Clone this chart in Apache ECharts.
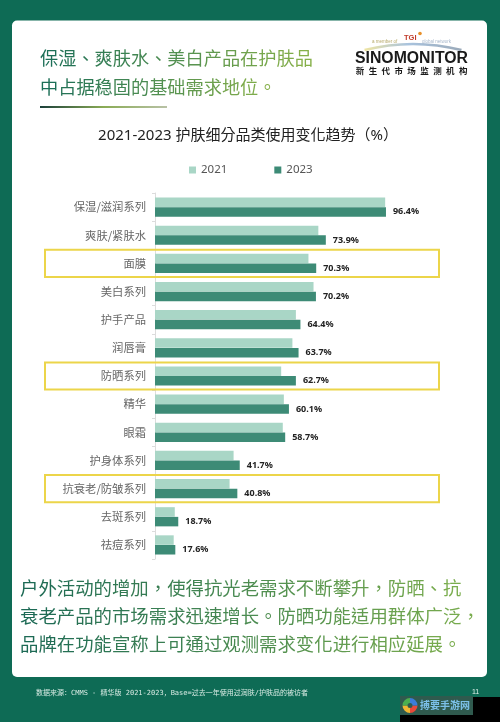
<!DOCTYPE html>
<html><head><meta charset="utf-8">
<script src="https://cdn.jsdelivr.net/npm/echarts@6/dist/echarts.min.js"></script>
<style>html,body{margin:0;padding:0;background:#0e6b55;}#c{width:500px;height:722px;}</style>
</head><body><div id="c"></div>
<script>
const categories = ['保湿/滋润系列','爽肤/紧肤水','面膜','美白系列','护手产品','润唇膏','防晒系列','精华','眼霜','护身体系列','抗衰老/防皱系列','去斑系列','祛痘系列'];
const values2021 = [96.1,71.1,67.4,69.3,62.7,61.4,57.2,58.2,57.8,39.4,37.9,17.4,17.0];
const values2023 = [96.4,73.9,70.3,70.2,64.4,63.7,62.7,60.1,58.7,41.7,40.8,18.7,17.6];
const seriesNames = ['2021','2023'];
const highlighted = ['面膜','防晒系列','抗衰老/防皱系列'];
const headline = ['保湿、爽肤水、美白产品在护肤品','中占据稳固的基础需求地位。'];
const chartTitle = '2021-2023 护肤细分品类使用变化趋势（%）';
const bodyText = ['户外活动的增加，使得抗光老需求不断攀升，防晒、抗','衰老产品的市场需求迅速增长。防晒功能适用群体广泛，','品牌在功能宣称上可通过观测需求变化进行相应延展。'];
const sourceNote = '数据来源：CMMS - 精华版 2021-2023，Base=过去一年使用过润肤/护肤品的被访者';
const logoName = 'SINOMONITOR';
const logoSub = '新生代市场监测机构';

const C2021 = '#a9d6c6', C2023 = '#3d8b76';
const CJK = '"Noto Sans CJK TC","Noto Sans CJK SC",sans-serif';

function hex(c){return [1,3,5].map(i=>parseInt(c.substr(i,2),16));}
function lerp(a,b,t){const A=hex(a),B=hex(b);return 'rgb('+A.map((v,i)=>Math.round(v+(B[i]-v)*t)).join(',')+')';}
function gradText(str,c0,c1,size){
  const chars=Array.from(str);const rich={};let text='';
  chars.forEach((ch,i)=>{const t=chars.length>1?i/(chars.length-1):0;const k='g'+i;
    rich[k]={fill:lerp(c0,c1,t),fontSize:size,fontFamily:CJK};text+='{'+k+'|'+ch+'}';});
  return {text,rich};
}

const chart = echarts.init(document.getElementById('c'),null,{renderer:'canvas'});
const base = {
  animation:false,
  backgroundColor:'#0e6b55',
  legend:{data:seriesNames,left:189,top:164,padding:0,itemWidth:7,itemHeight:7,itemGap:47,icon:'rect',
    textStyle:{color:'#555',fontSize:11.5,fontFamily:'"Noto Sans",sans-serif'}},
  grid:{left:155,top:193,width:240.6,height:366,containLabel:false},
  xAxis:{type:'value',min:10,max:100,show:false},
  yAxis:{type:'category',inverse:true,data:categories,
    axisLine:{lineStyle:{color:'#dcdcdc'}},
    axisTick:{show:true,length:3,lineStyle:{color:'#dcdcdc'}},
    axisLabel:{color:'#666',fontSize:11.3,margin:9,fontFamily:'"Noto Sans CJK SC",sans-serif'}},
  series:[
    {name:seriesNames[0],type:'bar',data:values2021,barWidth:9.5,barGap:'2%',itemStyle:{color:C2021},z:3},
    {name:seriesNames[1],type:'bar',data:values2023,barWidth:9.5,barGap:'2%',itemStyle:{color:C2023},z:3,
      label:{show:true,position:'right',distance:7,formatter:p=>p.value.toFixed(1)+'%',
        color:'#222',fontSize:9,fontWeight:'bold',fontFamily:'"Noto Sans",sans-serif'}}
  ]
};
chart.setOption(base);

const g = [];
g.push({type:'rect',z:-10,shape:{x:12,y:20.5,width:475,height:656.5,r:5},style:{fill:'#ffffff'}});
headline.forEach((l,i)=>{const r=gradText(l,'#1d6f57','#86b04a',18.2);
  g.push({type:'text',z:5,style:{x:40,y:58+i*29,text:r.text,rich:r.rich,verticalAlign:'middle',textAlign:'left'}});});
g.push({type:'rect',z:5,shape:{x:40,y:106,width:127,height:2},
  style:{fill:new echarts.graphic.LinearGradient(0,0,1,0,[{offset:0,color:'#1b3f3a'},{offset:0.5,color:'#8aab55'},{offset:1,color:'#b9c2a6'}])}});
g.push({type:'arc',z:5,shape:{cx:413,cy:243,r:199,startAngle:-Math.PI/2-0.246,endAngle:-Math.PI/2+0.246},
  style:{lineWidth:2.5,fill:null,stroke:new echarts.graphic.LinearGradient(0,0,1,0,[{offset:0,color:'#f3e7a0'},{offset:0.45,color:'#a9c3de'},{offset:1,color:'#9aa9b8'}])}});
g.push({type:'text',z:5,style:{x:372,y:42,text:'a member of',fill:'#b7a96a',fontSize:4.5,verticalAlign:'middle'}});
g.push({type:'text',z:5,style:{x:404,y:38,text:'TGI',fill:'#c23a2a',fontSize:7.5,fontWeight:'bold',verticalAlign:'middle'}});
g.push({type:'circle',z:5,shape:{cx:420,cy:33.5,r:1.8},style:{fill:'#e8902a'}});
g.push({type:'text',z:5,style:{x:422,y:42,text:'global network',fill:'#a8b8cc',fontSize:4.5,verticalAlign:'middle'}});
g.push({type:'text',z:5,style:{x:411.5,y:58.5,text:logoName,fill:'#1a1a1a',fontSize:15.8,fontWeight:900,
  fontFamily:'"Liberation Sans",Arial,sans-serif',textAlign:'center',verticalAlign:'middle'}});
Array.from(logoSub).forEach((ch,i)=>{g.push({type:'text',z:5,style:{x:360+i*12.9,y:70.5,text:ch,fill:'#1a1a1a',
  fontSize:8.5,fontWeight:'bold',fontFamily:'"Noto Sans CJK SC",sans-serif',textAlign:'center',verticalAlign:'middle'}});});
g.push({type:'text',z:5,style:{x:248,y:136,text:chartTitle,fill:'#222',fontSize:15,
  fontFamily:'"Noto Sans","Noto Sans CJK TC",sans-serif',textAlign:'center',verticalAlign:'middle'}});
const idx0 = chart.convertToPixel({yAxisIndex:0},categories[0]);
const idx1 = chart.convertToPixel({yAxisIndex:0},categories[1]);
const band = Math.abs(idx1-idx0);
highlighted.forEach(name=>{const cy=chart.convertToPixel({yAxisIndex:0},name);
  g.push({type:'rect',z:6,shape:{x:45,y:cy-band/2+0.5,width:394,height:band-1},
    style:{fill:null,stroke:'#ecd54a',lineWidth:2}});});
bodyText.forEach((l,i)=>{const r=gradText(l,'#1d6a55','#7aad4e',18.4);
  g.push({type:'text',z:5,style:{x:20,y:588.5+i*28,text:r.text,rich:r.rich,verticalAlign:'middle',textAlign:'left'}});});
g.push({type:'text',z:5,style:{x:36,y:693.5,text:sourceNote,fill:'#d8ebe4',fontSize:7,
  fontFamily:'"DejaVu Sans Mono","Noto Sans CJK SC",monospace',verticalAlign:'middle'}});
g.push({type:'text',z:5,style:{x:472,y:692,text:'11',fill:'#e0f0ea',fontSize:7,verticalAlign:'middle'}});
g.push({type:'rect',z:8,shape:{x:473,y:697,width:27,height:25},style:{fill:'#000'}});
g.push({type:'rect',z:8,shape:{x:400,y:715,width:100,height:7},style:{fill:'#000'}});
g.push({type:'rect',z:8,shape:{x:400,y:696,width:73,height:19},style:{fill:'#2f5a4e'}});
const wmCols=['#e84a3a','#f2b632','#4caf50','#3b7dd8'];
wmCols.forEach((c,i)=>{g.push({type:'sector',z:9,shape:{cx:410,cy:705.5,r:7.5,r0:2.5,startAngle:i*Math.PI/2,endAngle:(i+1)*Math.PI/2},style:{fill:c}});});
g.push({type:'text',z:9,style:{x:420,y:705.5,text:'搏要手游网',fill:'#7cc0e8',fontSize:10,fontWeight:'bold',
  fontFamily:'"Noto Sans CJK SC",sans-serif',verticalAlign:'middle'}});
chart.setOption({graphic:g});
</script></body></html>
